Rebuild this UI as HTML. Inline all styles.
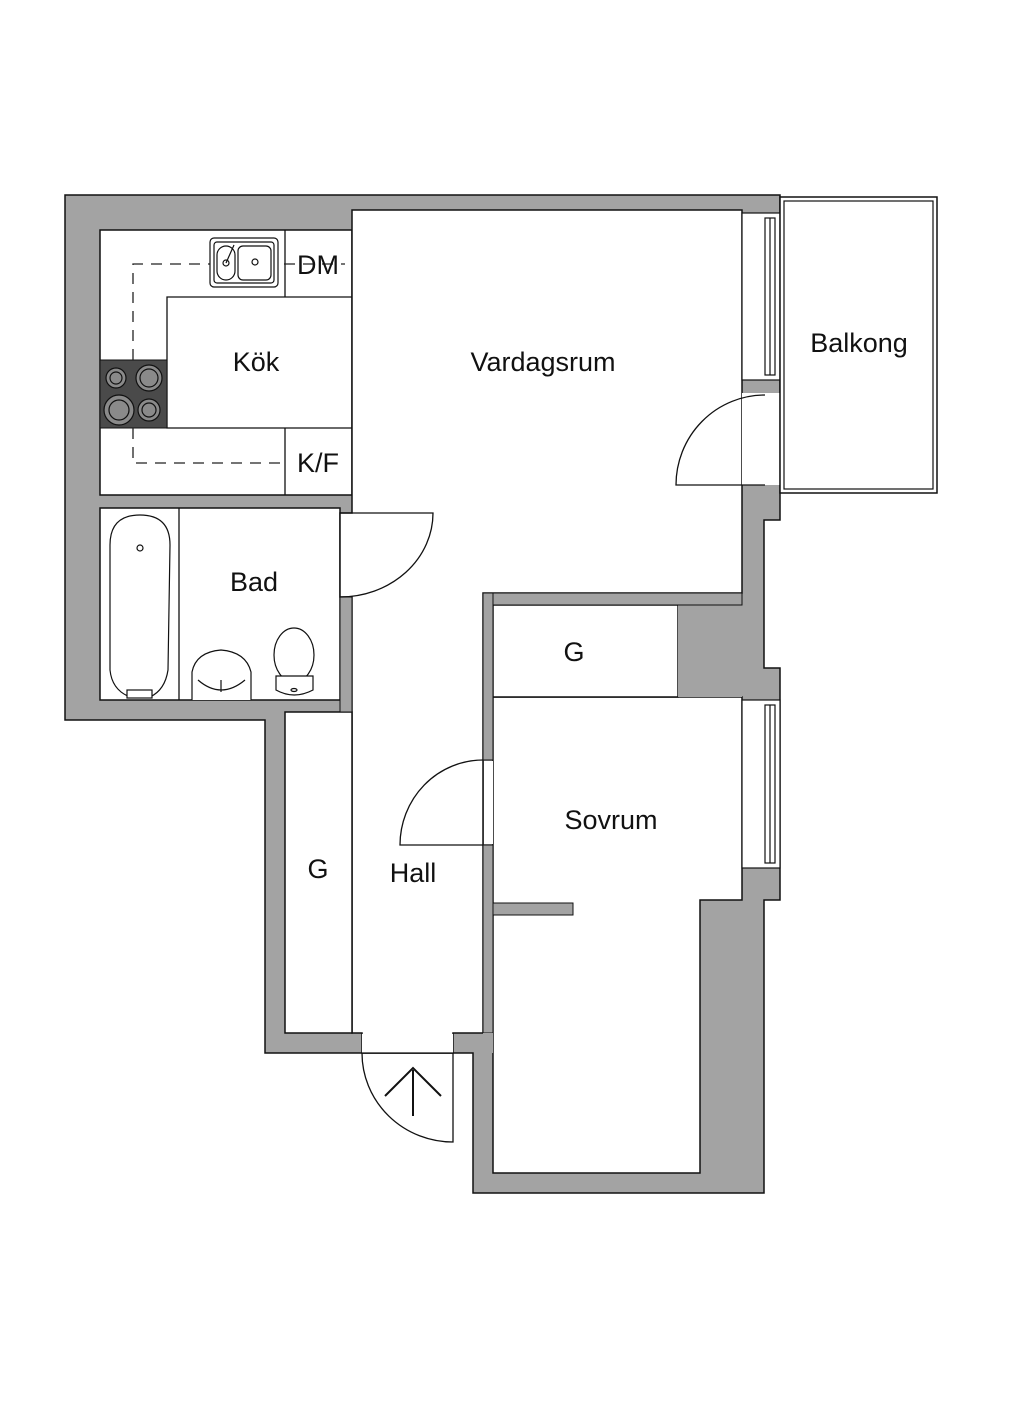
<!DOCTYPE html>
<html><head><meta charset="utf-8"><style>
html,body{margin:0;padding:0;background:#fff;}
svg{display:block}
text{font-family:"Liberation Sans",sans-serif;fill:#111;}
</style></head><body>
<svg width="1024" height="1409" viewBox="0 0 1024 1409" xmlns="http://www.w3.org/2000/svg">
<rect width="1024" height="1409" fill="#fff"/>
<polygon points="65,195 780,195 780,520 764,520 764,668 780,668 780,900 764,900 764,1193 473,1193 473,1053 265,1053 265,720 65,720" fill="#a3a3a3" stroke="#111" stroke-width="1.5"/>
<g fill="#fff" stroke="#111" stroke-width="1.5">
<rect x="100" y="230" width="252" height="265"/>
<rect x="100" y="508" width="240" height="192"/>
<polygon points="352,210 742,210 742,593 483,593 483,1033 453,1033 453,1053 362,1053 362,1033 352,1033 352,597 340,597 340,513 352,513"/>
<rect x="285" y="712" width="67" height="321"/>
<polygon points="493,697 742,697 742,900 700,900 700,1173 493,1173"/>
<rect x="493" y="605" width="185" height="92"/>
</g>
<rect x="340" y="597" width="12" height="115" fill="#a3a3a3" stroke="#111" stroke-width="1"/>
<rect x="678" y="605" width="64" height="92" fill="#a3a3a3"/>
<rect x="483" y="593" width="259" height="12" fill="#a3a3a3" stroke="#111" stroke-width="1"/>
<rect x="483" y="593" width="10" height="167" fill="#a3a3a3" stroke="#111" stroke-width="1"/>
<rect x="483" y="845" width="10" height="188" fill="#a3a3a3" stroke="#111" stroke-width="1"/>
<rect x="483" y="1033" width="10" height="20" fill="#a3a3a3"/>
<rect x="493" y="903" width="80" height="12" fill="#a3a3a3" stroke="#111" stroke-width="1"/>
<rect x="484" y="761" width="9" height="83" fill="#fff"/>
<rect x="362" y="1034" width="91" height="19" fill="#fff"/>
<line x1="362" y1="1053" x2="453" y2="1053" stroke="#111" stroke-width="1.2"/>
<g stroke="#111" stroke-width="1.2">
<rect x="742" y="213" width="38" height="167" fill="#fff"/>
<rect x="765" y="218" width="10" height="157" fill="#fff"/>
<line x1="770" y1="218" x2="770" y2="375"/>
<rect x="742" y="393" width="38" height="92" fill="#fff" stroke="none"/>
<line x1="780" y1="393" x2="780" y2="485"/>
<rect x="742" y="700" width="38" height="168" fill="#fff"/>
<rect x="765" y="705" width="10" height="158" fill="#fff"/>
<line x1="770" y1="705" x2="770" y2="863"/>
</g>
<rect x="780" y="197" width="157" height="296" fill="#fff" stroke="#111" stroke-width="1.5"/>
<rect x="784" y="201" width="149" height="288" fill="none" stroke="#111" stroke-width="1.2"/>
<g stroke="#111" stroke-width="1.3" fill="none">
<polyline points="352,297 167,297 167,428 352,428"/>
<line x1="285" y1="230" x2="285" y2="297"/>
<line x1="285" y1="428" x2="285" y2="495"/>
<line x1="179" y1="508" x2="179" y2="700"/>
</g>
<rect x="100" y="360" width="67" height="68" fill="#4a4a4a" stroke="#111"/>
<g fill="#8a8a8a" stroke="#111" stroke-width="1.2">
<circle cx="116" cy="378" r="10"/><circle cx="116" cy="378" r="6"/>
<circle cx="149" cy="378" r="13"/><circle cx="149" cy="378" r="9"/>
<circle cx="119" cy="410" r="15"/><circle cx="119" cy="410" r="10"/>
<circle cx="149" cy="410" r="11"/><circle cx="149" cy="410" r="7"/>
</g>
<g stroke="#222" stroke-width="1.3" fill="none" stroke-dasharray="11,8">
<polyline points="133,360 133,264 345,264"/>
<polyline points="133,428 133,463 285,463"/>
</g>
<g stroke="#111" stroke-width="1.2" fill="#fff">
<rect x="210" y="238" width="68" height="49" rx="4"/>
<rect x="214" y="242" width="60" height="41" rx="3"/>
<rect x="217" y="246" width="18" height="34" rx="9"/>
<rect x="238" y="246" width="33" height="34" rx="5"/>
<circle cx="226" cy="263" r="3"/>
<circle cx="255" cy="262" r="3"/>
<line x1="226" y1="263" x2="234" y2="245"/>
</g>
<g stroke="#111" stroke-width="1.2" fill="#fff">
<path d="M110,545 Q110,515 140,515 Q170,515 170,545 L168,670 Q165,690 150,697 L130,697 Q112,690 110,670 Z"/>
<circle cx="140" cy="548" r="3"/>
<rect x="127" y="690" width="25" height="8"/>
<path d="M192,700 L192,672 Q196,652 221,650 Q246,652 251,672 L251,700"/>
<path d="M198,680 Q221,700 245,680"/>
<line x1="221" y1="680" x2="221" y2="692"/>
<ellipse cx="294" cy="655" rx="20" ry="27"/>
<path d="M276,676 L276,690 Q294,700 313,690 L313,676 Z"/>
<ellipse cx="294" cy="690" rx="3" ry="1.5"/>
</g>
<g stroke="#111" stroke-width="1.3" fill="none">
<path d="M340,513 L433,513 A93,84 0 0 1 340,597"/>
<path d="M765,485 L676,485 A89,90 0 0 1 765,395"/>
<path d="M483,845 L400,845 A83,85 0 0 1 483,760"/>
<path d="M453,1053 L453,1142 A91,89 0 0 1 362,1053"/>
</g>
<g stroke="#111" stroke-width="2" fill="none">
<line x1="413" y1="1116" x2="413" y2="1070"/>
<polyline points="385,1096 413,1068 441,1096"/>
</g>
<g font-size="27" text-anchor="middle">
<text x="256" y="371">Kök</text>
<text x="543" y="371">Vardagsrum</text>
<text x="859" y="352">Balkong</text>
<text x="254" y="591">Bad</text>
<text x="574" y="661">G</text>
<text x="611" y="829">Sovrum</text>
<text x="318" y="878">G</text>
<text x="413" y="882">Hall</text>
<text x="318" y="274">DM</text>
<text x="318" y="472">K/F</text>
</g>
</svg>
</body></html>
